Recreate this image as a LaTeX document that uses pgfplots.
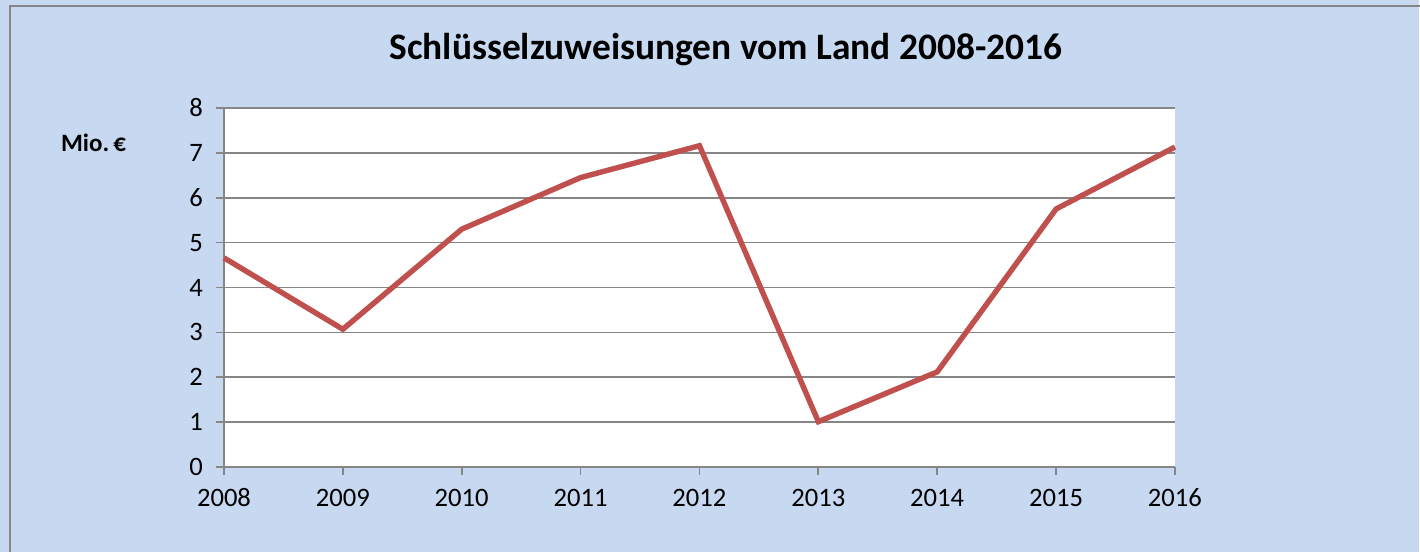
\documentclass[border=0pt]{standalone}
\usepackage{pgfplots}
\pgfplotsset{compat=1.18}
\usepackage{fontspec}
\setmainfont{Carlito}
\definecolor{bgblue}{HTML}{C6D9F1}
\definecolor{linered}{HTML}{C0504D}
\definecolor{gridgray}{HTML}{868686}
\begin{document}
\begin{tikzpicture}
\useasboundingbox (0,0) rectangle (710pt,276pt);
\fill[bgblue] (0,0) rectangle (709.5pt,276pt);
\draw[gridgray,line width=1pt] (4.8pt,0) -- (4.8pt,273pt) -- (710pt,273pt);
\node[font=\fontsize{18.7}{22}\selectfont\bfseries] at (363pt,251pt) {Schlüsselzuweisungen vom Land 2008-2016};
\node[font=\fontsize{12.5}{14}\selectfont\bfseries] at (46.8pt,204.5pt) {Mio.\,€};
\begin{axis}[
  at={(112pt,42.5pt)}, anchor=south west,
  scale only axis, width=475.5pt, height=179.5pt,
  xmin=2008, xmax=2016, ymin=0, ymax=8,
  xtick={2008,...,2016}, ytick={0,...,8},
  axis x line*=bottom, axis y line*=left,
  axis line style={gridgray, line width=0.8pt, -},
  axis background/.style={fill=white},
  ymajorgrids, grid style={gridgray, line width=0.8pt},
  tick align=outside, major tick length=4pt,
  tick style={gridgray, line width=0.8pt},
  xticklabel style={/pgf/number format/1000 sep={}, yshift=-3pt, text height=9pt, text depth=0pt},
  yticklabel style={xshift=-3pt},
  /pgf/number format/assume math mode=true,
  tick label style={font=\fontsize{13.3}{15}\selectfont},
  clip=false,
]
\addplot[linered, line width=2.7pt, line join=miter] coordinates {
(2008,4.66) (2009,3.07) (2010,5.30) (2011,6.45) (2012,7.16)
(2013,1.01) (2014,2.12) (2015,5.75) (2016,7.13)
};
\end{axis}
\end{tikzpicture}
\end{document}
